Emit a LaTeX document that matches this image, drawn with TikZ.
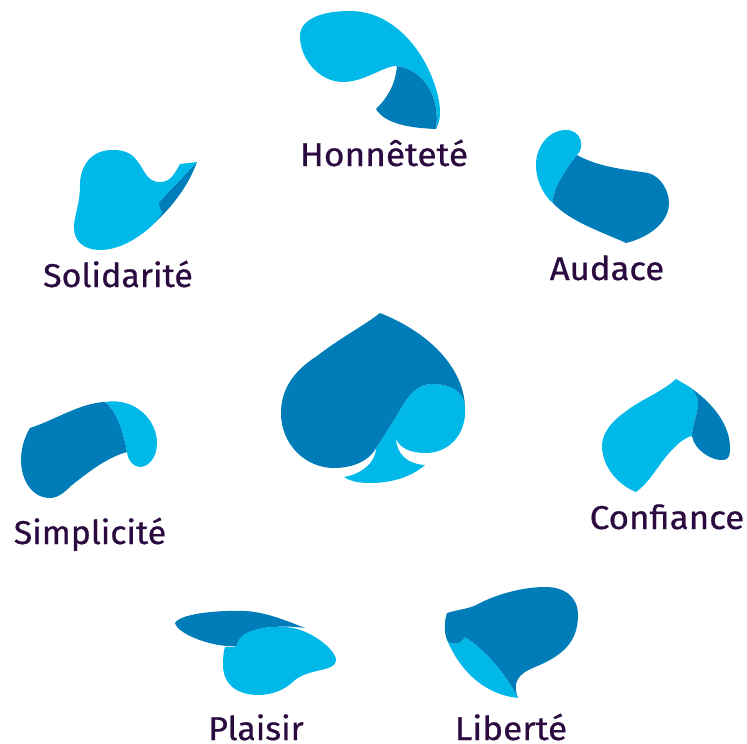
\documentclass[tikz,border=0pt]{standalone}
\usepackage{fontspec}
\setmainfont{Fira Sans}[FakeBold=0.6]
\definecolor{lightb}{HTML}{00B9E9}
\definecolor{darkb}{HTML}{007DB8}
\definecolor{labelc}{HTML}{2A0A3F}
\tikzset{
  lightshape/.style={fill=lightb,draw=none},
  darkshape/.style={fill=darkb,draw=none},
  lab/.style={text=labelc,font=\fontsize{33}{36}\selectfont,anchor=base,inner sep=0pt,outer sep=0pt,transform shape}
}
\begin{document}
\begin{tikzpicture}[x=1pt,y=-1pt]
\useasboundingbox (0,0) rectangle (747,744);
% centre
\path[lightshape] (376,448) .. controls (384,436) and (392,423) .. (400,410) .. controls (408,395) and (418,384) .. (432,384) .. controls (452,384) and (464,392) .. (465,407) .. controls (467,435) and (448,453) .. (426,453) .. controls (410,453) and (400,448) .. (396,439) .. controls (397,455) and (408,464) .. (425,465) .. controls (410,478) and (390,483) .. (370,483) .. controls (358,483) and (350,481) .. (344,477) .. controls (362,474) and (376,462) .. (376,448) -- cycle;
\path[darkshape] (380,313) .. controls (365,325) and (340,338) .. (317,356) .. controls (295,370) and (281,388) .. (281,413) .. controls (281,445) and (306,468) .. (334,468) .. controls (354,468) and (370,460) .. (376,448) .. controls (384,436) and (392,423) .. (400,410) .. controls (408,395) and (418,384) .. (432,384) .. controls (452,384) and (464,392) .. (465,407) .. controls (464,372) and (435,335) .. (380,313) -- cycle;
% Honnetete
\path[lightshape] (397,66) .. controls (385,65) and (365,82) .. (343,82) .. controls (320,82) and (300,60) .. (300,36) .. controls (300,20) and (320,11) .. (350,11) .. controls (390,11) and (420,45) .. (433,80) .. controls (440,98) and (443,118) .. (436,129) .. controls (440,105) and (430,72) .. (397,66) -- cycle;
\path[darkshape] (397,66) .. controls (430,72) and (440,105) .. (436,129) .. controls (410,128) and (385,124) .. (376,109) .. controls (388,97) and (395,85) .. (397,66) -- cycle;
% Audace
\path[lightshape] (577,155) .. controls (585,148) and (582,130) .. (566,130) .. controls (550,130) and (536,145) .. (536,165) .. controls (536,182) and (545,197) .. (553,203) .. controls (552,190) and (565,170) .. (577,155) -- cycle;
\path[darkshape] (577,155) .. controls (600,168) and (630,170) .. (648,173) .. controls (660,176) and (669,190) .. (669,203) .. controls (669,222) and (650,237) .. (626,243) .. controls (605,233) and (570,222) .. (553,203) .. controls (552,190) and (565,170) .. (577,155) -- cycle;
% Confiance
\path[lightshape] (676,379) .. controls (662,392) and (640,400) .. (625,412) .. controls (608,424) and (602,436) .. (602,446) .. controls (602,468) and (620,486) .. (636,492) .. controls (650,482) and (658,465) .. (670,452) .. controls (678,443) and (686,437) .. (692,436) .. controls (692,425) and (698,414) .. (698,403) .. controls (698,396) and (694,390) .. (688,386) -- cycle;
\path[darkshape] (688,386) .. controls (694,390) and (698,396) .. (698,403) .. controls (698,414) and (692,425) .. (692,436) .. controls (694,450) and (712,461) .. (723,460) .. controls (728,460) and (730,456) .. (730,450) .. controls (731,425) and (712,402) .. (688,386) -- cycle;
% Liberte
\path[lightshape] (447,640) .. controls (451,646) and (460,645) .. (465,637) .. controls (485,650) and (505,672) .. (518,698) .. controls (488,695) and (462,675) .. (447,640) -- cycle;
\path[darkshape] (447,613) .. controls (460,609) and (470,609) .. (480,603) .. controls (500,593) and (525,587) .. (545,587) .. controls (565,587) and (578,597) .. (578,615) .. controls (578,640) and (565,655) .. (535,667) .. controls (518,674) and (512,682) .. (518,698) .. controls (505,672) and (485,650) .. (465,637) .. controls (460,645) and (451,646) .. (447,640) .. controls (444,632) and (444,622) .. (447,613) -- cycle;
% Plaisir
\path[darkshape] (175,623) .. controls (180,614) and (215,610) .. (245,611) .. controls (265,612) and (285,620) .. (305,628) .. controls (285,625) and (240,625) .. (237,646) .. controls (215,648) and (178,635) .. (175,623) -- cycle;
\path[lightshape] (237,646) .. controls (238,630) and (265,626) .. (285,627) .. controls (310,628) and (336,650) .. (336,660) .. controls (336,672) and (310,668) .. (295,680) .. controls (285,690) and (272,695) .. (258,695) .. controls (238,695) and (223,685) .. (223,665) .. controls (223,655) and (224,650) .. (225,647) .. controls (230,647) and (234,647) .. (237,646) -- cycle;
% Simplicite
\path[darkshape] (30,428) .. controls (55,420) and (80,403) .. (105,402) .. controls (118,412) and (124,435) .. (127,452) .. controls (105,458) and (85,475) .. (72,485) .. controls (65,492) and (58,498) .. (50,498) .. controls (32,498) and (21,480) .. (21,460) .. controls (21,448) and (25,436) .. (30,428) -- cycle;
\path[lightshape] (105,402) .. controls (135,397) and (157,420) .. (157,443) .. controls (157,458) and (148,467) .. (140,467) .. controls (133,467) and (128,460) .. (127,452) .. controls (124,435) and (118,412) .. (105,402) -- cycle;
% Solidarite
\path[darkshape] (197,162) .. controls (186,192) and (165,215) .. (143,233) -- (150,210) -- (159,202) -- cycle;
\path[lightshape] (197,162) -- (180,164) .. controls (174,175) and (170,182) .. (160,182) .. controls (145,182) and (145,168) .. (133,156) .. controls (125,150) and (118,150) .. (112,150) .. controls (92,150) and (80,165) .. (80,185) .. controls (80,205) and (74,215) .. (74,228) .. controls (74,242) and (85,250) .. (100,250) .. controls (115,250) and (130,243) .. (143,233) .. controls (150,228) and (158,220) .. (162,213) .. controls (160,209) and (159,206) .. (159,202) -- cycle;
% labels
\node[lab,xscale=1.07] (honnetete) at (384,166) {Honnêteté};
\node[lab,xscale=1.05] (audace) at (607,280) {Audace};
\node[lab,xscale=1.03] (solidarite) at (118,287) {Solidarité};
\node[lab,xscale=1.06] (confiance) at (667,529) {Confiance};
\node[lab,xscale=1.025] (simplicite) at (90,544) {Simplicité};
\node[lab,xscale=1.025] (plaisir) at (256,740) {Plaisir};
\node[lab,xscale=1.065] (liberte) at (511,740) {Liberté};
\end{tikzpicture}
\end{document}
